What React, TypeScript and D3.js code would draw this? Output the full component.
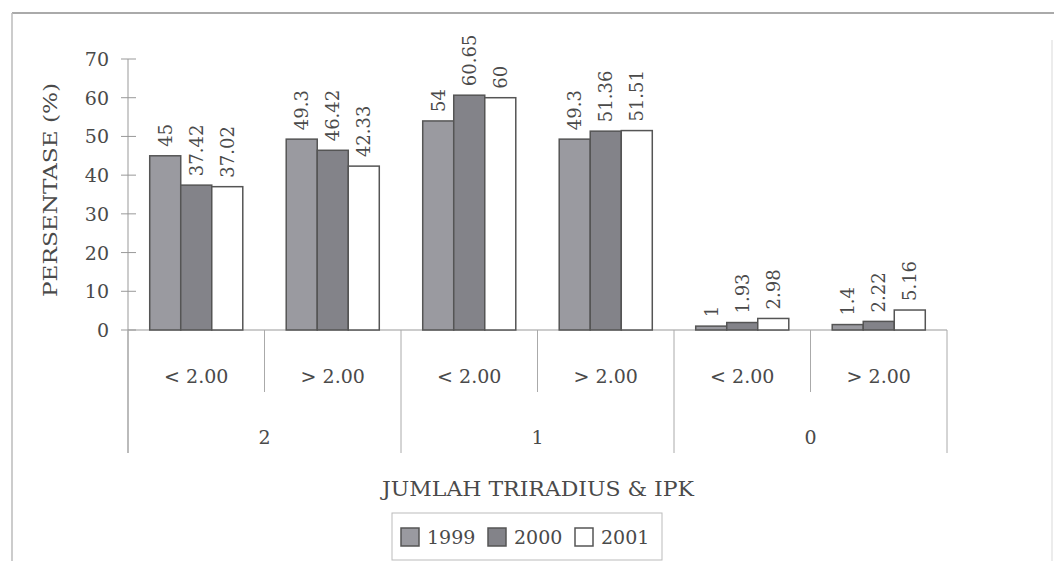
import React from "react";
import * as d3 from "d3";

// Categories: sub-category (IPK) within each group (jumlah triradius)
const subCategories = ["< 2.00", "> 2.00", "< 2.00", "> 2.00", "< 2.00", "> 2.00"];
const groups = ["2", "1", "0"];
const years = ["1999", "2000", "2001"];

// Percentages per year
const values1999 = [45, 49.3, 54, 49.3, 1, 1.4];
const values2000 = [37.42, 46.42, 60.65, 51.36, 1.93, 2.22];
const values2001 = [37.02, 42.33, 60, 51.51, 2.98, 5.16];

const yTicks = [0, 10, 20, 30, 40, 50, 60, 70];

const W = 1054;
const H = 561;
const FONT = "'DejaVu Serif', serif";
const TEXT = "#4a4a4a";

const fills: Record<string, string> = {
  "1999": "#9a9aa0",
  "2000": "#838389",
  "2001": "#ffffff",
};

export default function App() {
  const series = [values1999, values2000, values2001];
  const left = 128;
  const right = 947;
  const baseY = 330;
  const topY = 59;

  const x0 = d3
    .scaleBand<number>()
    .domain(d3.range(subCategories.length))
    .range([left, right])
    .padding(0);
  const x1 = d3
    .scaleBand<string>()
    .domain(years)
    .range([0, x0.bandwidth()])
    .paddingInner(0)
    .paddingOuter(0.7);
  const y = d3.scaleLinear().domain([0, 70]).range([baseY, topY]);

  const fmt = (v: number) => String(v);

  return (
    <svg
      width={W}
      height={H}
      viewBox={`0 0 ${W} ${H}`}
      style={{ position: "absolute", left: 0, top: 0, display: "block", background: "#fff" }}
      fontFamily={FONT}
    >
      {/* outer frame */}
      <line x1={12} y1={13} x2={W} y2={13} stroke="#aaa" strokeWidth={2} />
      <line x1={12} y1={13} x2={12} y2={H} stroke="#bbb" strokeWidth={1.5} />
      <line x1={1052} y1={40} x2={1052} y2={H} stroke="#e6e6e6" strokeWidth={1.5} />

      {/* y axis */}
      <line x1={left} y1={topY} x2={left} y2={453} stroke="#999" strokeWidth={1} />
      {yTicks.map((t) => (
        <g key={t}>
          <line x1={121} x2={136} y1={y(t)} y2={y(t)} stroke="#999" strokeWidth={1} />
          <text
            x={109}
            y={y(t)}
            textAnchor="end"
            dominantBaseline="central"
            fontSize={19}
            fill={TEXT}
          >
            {t}
          </text>
        </g>
      ))}
      <text
        transform={`translate(50, 190) rotate(-90)`}
        textAnchor="middle"
        dominantBaseline="central"
        fontSize={19}
        textLength={214}
        lengthAdjust="spacingAndGlyphs"
        fill={TEXT}
      >
        PERSENTASE (%)
      </text>

      {/* x axis and category dividers */}
      <line x1={left} y1={baseY} x2={right} y2={baseY} stroke="#999" strokeWidth={1} />
      {d3.range(subCategories.length + 1).map((i) => {
        const xx = left + i * x0.bandwidth();
        const major = i % 2 === 0;
        return (
          <line
            key={i}
            x1={xx}
            x2={xx}
            y1={baseY}
            y2={major ? 453 : 392}
            stroke="#aaa"
            strokeWidth={1}
          />
        );
      })}
      {subCategories.map((c, i) => (
        <text
          key={i}
          x={(x0(i) as number) + x0.bandwidth() / 2}
          y={376}
          textAnchor="middle"
          dominantBaseline="central"
          fontSize={19}
          fill={TEXT}
        >
          {c}
        </text>
      ))}
      {groups.map((g, gi) => (
        <text
          key={g}
          x={left + (gi * 2 + 1) * x0.bandwidth()}
          y={437}
          textAnchor="middle"
          dominantBaseline="central"
          fontSize={19}
          fill={TEXT}
        >
          {g}
        </text>
      ))}

      {/* bars and value labels */}
      {subCategories.map((_, i) =>
        years.map((yr, si) => {
          const v = series[si][i];
          const bx = (x0(i) as number) + (x1(yr) as number);
          const bw = x1.bandwidth();
          const by = y(v);
          return (
            <g key={`${i}-${yr}`}>
              <rect
                x={bx}
                y={by}
                width={bw}
                height={baseY - by}
                fill={fills[yr]}
                stroke="#555"
                strokeWidth={1.5}
              />
              <text
                transform={`translate(${bx + bw / 2}, ${by - 9}) rotate(-90)`}
                textAnchor="start"
                dominantBaseline="central"
                fontSize={18}
                fill={TEXT}
              >
                {fmt(v)}
              </text>
            </g>
          );
        })
      )}

      {/* axis title */}
      <text
        x={538}
        y={489}
        textAnchor="middle"
        dominantBaseline="central"
        fontSize={20}
        textLength={312}
        lengthAdjust="spacingAndGlyphs"
        fill={TEXT}
      >
        JUMLAH TRIRADIUS &amp; IPK
      </text>

      {/* legend */}
      <rect x={392} y={513} width={270} height={47} fill="#fff" stroke="#bbb" strokeWidth={1} />
      {years.map((yr, i) => {
        const lx = 401 + i * 87;
        return (
          <g key={yr}>
            <rect x={lx} y={528} width={18} height={18} fill={fills[yr]} stroke="#555" strokeWidth={1.5} />
            <text x={lx + 26} y={537} dominantBaseline="central" fontSize={19} fill={TEXT}>
              {yr}
            </text>
          </g>
        );
      })}
    </svg>
  );
}
